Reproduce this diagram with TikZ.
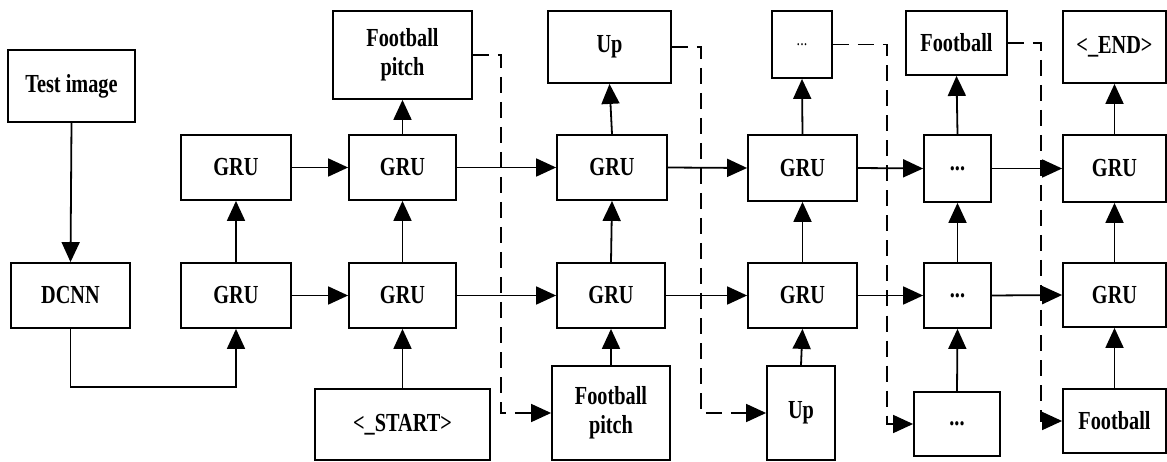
\documentclass[tikz,border=0pt]{standalone}
\usepackage{fontspec}
\setmainfont{Liberation Serif}[FakeStretch=0.78]
\usetikzlibrary{arrows.meta}

\begin{document}
\begin{tikzpicture}[x=1pt,y=-1pt,
  box/.style={draw,line width=1.8pt,inner sep=0pt,align=center,font=\fontsize{26}{29}\selectfont\bfseries},
  arr/.style={line width=1.8pt,-{Triangle[length=20pt,width=18pt]}},
  dashline/.style={arr,line width=1.6pt,dash pattern=on 16pt off 9pt}]
\useasboundingbox (0,0) rectangle (1167,462);

% Text Node
\node[box,minimum width=127pt,minimum height=72pt] (test) at (71.5,86) {Test image};
\node[box,minimum width=119pt,minimum height=65pt] (dcnn) at (70.5,295.5) {DCNN};
% GRU columns
\node[box,minimum width=110pt,minimum height=65pt] (gruat) at (236,167.5) {GRU};
\node[box,minimum width=110pt,minimum height=65pt] (gruab) at (236,295.5) {GRU};
\node[box,minimum width=107pt,minimum height=65pt] (grubt) at (402.5,167.5) {GRU};
\node[box,minimum width=107pt,minimum height=65pt] (grubb) at (402.5,295.5) {GRU};
\node[box,minimum width=110pt,minimum height=65pt] (gruct) at (612,167.5) {GRU};
\node[box,minimum width=108pt,minimum height=65pt] (grucb) at (611,295.5) {GRU};
\node[box,minimum width=109pt,minimum height=66pt] (grudt) at (802.5,168) {GRU};
\node[box,minimum width=109pt,minimum height=65pt] (grudb) at (802.5,295.5) {GRU};
\node[box,minimum width=67pt,minimum height=67pt] (dotset) at (957.5,168.5) {...};
\node[box,minimum width=67pt,minimum height=65pt] (dotseb) at (957.5,295.5) {...};
\node[box,minimum width=103pt,minimum height=67pt] (gruft) at (1114.5,168.5) {GRU};
\node[box,minimum width=103pt,minimum height=64pt] (grufb) at (1114.5,295) {GRU};
% outputs
\node[box,minimum width=139pt,minimum height=88pt] (pitcht) at (402.5,55) {Football\\pitch};
\node[box,minimum width=123pt,minimum height=72pt] (upt) at (609.5,47) {Up};
\node[box,minimum width=60pt,minimum height=67pt] (dotst) at (802,44.5) {\mdseries\fontsize{18}{18}\selectfont ...};
\node[box,minimum width=101pt,minimum height=64pt] (ballt) at (956.5,43) {Football};
\node[box,minimum width=103pt,minimum height=72pt] (endt) at (1114.5,47) {<\_END>};
% inputs
\node[box,minimum width=175pt,minimum height=71pt] (start) at (402.5,424.5) {<\_START>};
\node[box,minimum width=118pt,minimum height=94pt] (pitchb) at (611,413) {Football\\pitch};
\node[box,minimum width=68pt,minimum height=94pt] (upb) at (801,413) {Up};
\node[box,minimum width=86pt,minimum height=64pt] (dotsb) at (957,424) {...};
\node[box,minimum width=103pt,minimum height=64pt] (ballb) at (1114.5,421) {Football};

%Straight Lines
\draw[arr] (test.south) -- (dcnn.north);
\draw[arr] (dcnn.south) -- ++(0,58) -| (gruab.south);
\draw[arr] (gruab.north) -- (gruat.south);
\draw[arr] (grubb.north) -- (grubt.south);
\draw[arr] (grucb.north) -- (gruct.south);
\draw[arr] (grudb.north) -- (grudt.south);
\draw[arr] (dotseb.north) -- (dotset.south);
\draw[arr] (grufb.north) -- (gruft.south);
\draw[arr] (gruat.east) -- (grubt.west);
\draw[arr] (grubt.east) -- (gruct.west);
\draw[arr] (gruct.east) -- (grudt.west);
\draw[arr] (grudt.east) -- (dotset.west);
\draw[arr] (dotset.east) -- (gruft.west);
\draw[arr] (gruab.east) -- (grubb.west);
\draw[arr] (grubb.east) -- (grucb.west);
\draw[arr] (grucb.east) -- (grudb.west);
\draw[arr] (grudb.east) -- (dotseb.west);
\draw[arr] (dotseb.east) -- (grufb.west);
\draw[arr] (grubt.north) -- (pitcht.south);
\draw[arr] (gruct.north) -- (upt.south);
\draw[arr] (grudt.north) -- (dotst.south);
\draw[arr] (dotset.north) -- (ballt.south);
\draw[arr] (gruft.north) -- (endt.south);
\draw[arr] (start.north) -- (grubb.south);
\draw[arr] (pitchb.north) -- (grucb.south);
\draw[arr] (upb.north) -- (grudb.south);
\draw[arr] (dotsb.north) -- (dotseb.south);
\draw[arr] (ballb.north) -- (grufb.south);

%Dashed Lines
\draw[dashline] (pitcht.east) -- ++(28,0) |- (pitchb.west);
\draw[dashline] (upt.east) -- ++(29,0) |- (upb.west);
\draw[dashline] (dotst.east) -- ++(54,0) |- (dotsb.west);
\draw[dashline] (ballt.east) -- ++(33,0) |- (ballb.west);

\end{tikzpicture}
\end{document}
